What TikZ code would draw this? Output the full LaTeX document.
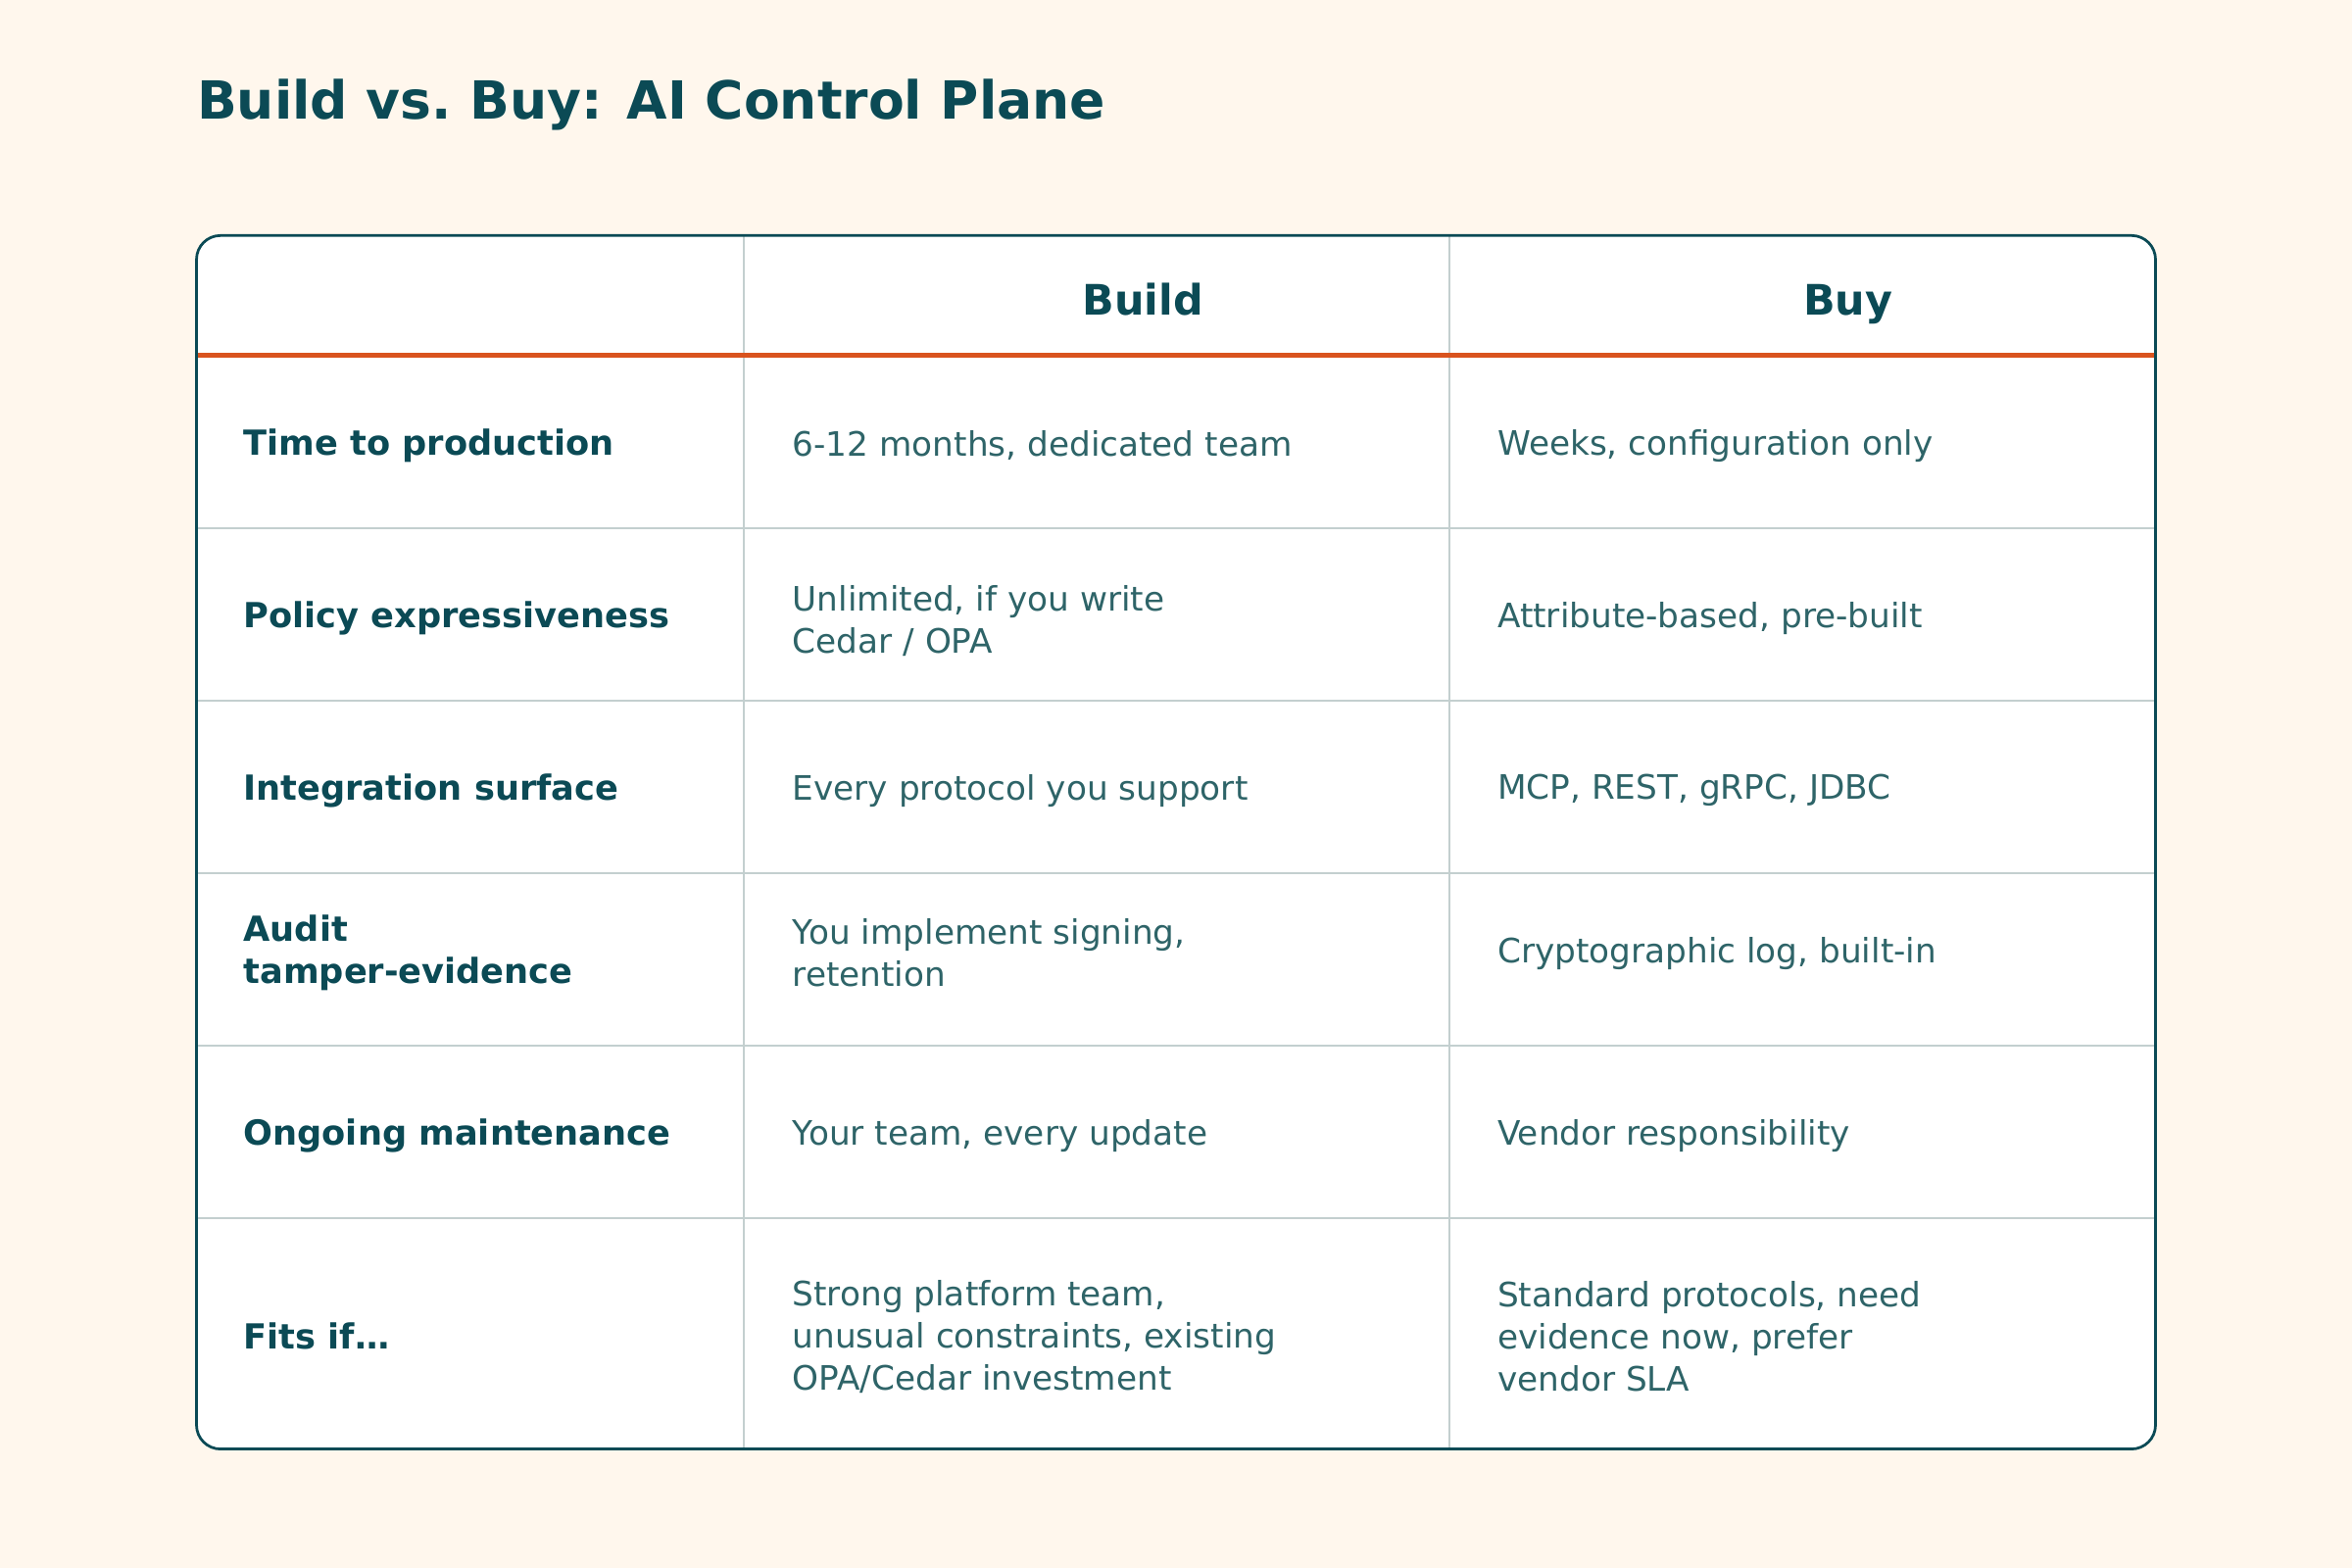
\documentclass[tikz,border=0pt]{standalone}
\usepackage{fontspec}
\setmainfont{DejaVu Sans}
\usepackage{xcolor}
\usetikzlibrary{positioning}
\definecolor{bgcream}{HTML}{FFF7ED}
\definecolor{deepteal}{HTML}{0B4A55}
\definecolor{softteal}{HTML}{2E6468}
\definecolor{gridgray}{HTML}{C3CFCF}
\definecolor{rustline}{HTML}{D9531E}
\begin{document}
\begin{tikzpicture}[x=0.5pt,y=-0.5pt]
  \tikzset{title/.style = {anchor=west,font=\fontsize{17.5}{20}\selectfont\bfseries,text=deepteal,inner sep=0}}
  \tikzset{head/.style = {anchor=base,font=\fontsize{14}{16}\selectfont\bfseries,text=deepteal,inner sep=0}}
  \tikzset{rowlabel/.style = {anchor=west,align=left,font=\fontsize{11.5}{14}\selectfont\bfseries,text=deepteal,inner sep=0}}
  \tikzset{cell/.style = {anchor=west,align=left,font=\fontsize{11.2}{14}\selectfont,text=softteal,inner sep=0}}
  \tikzset{grid/.style = {draw=gridgray,line width=0.6pt}}

	\fill[bgcream] (0,0) rectangle (1568,1045);
	\node[title] (T) at (131,70) {Build vs.\ Buy: AI Control Plane};

	\fill[white,rounded corners=8pt] (131,157) rectangle (1437,966);
	% grid
	\foreach \y in {352,467,582,697,812}
	\draw[grid] (131,\y) -- (1437,\y);
	\foreach \x in {496,966}
	\draw[grid] (\x,157) -- (\x,966);
	\draw[rustline,line width=1.5pt] (131,237) -- (1437,237);
	\draw[deepteal,line width=0.9pt,rounded corners=8pt] (131,157) rectangle (1437,966);

	\node[head] (hbuild) at (762,210) {Build};
	\node[head] (hbuy) at (1232,210) {Buy};

	\node[rowlabel] (l1) at (162,297) {Time to production};
	\node[rowlabel] (l2) at (162,412) {Policy expressiveness};
	\node[rowlabel] (l3) at (162,527) {Integration surface};
	\node[rowlabel] (l4) at (162,635) {Audit\\tamper-evidence};
	\node[rowlabel] (l5) at (162,757) {Ongoing maintenance};
	\node[rowlabel] (l6) at (162,891) {Fits if…};

	\node[cell] (a1) at (528,297) {6-12 months, dedicated team};
	\node[cell] (a2) at (528,414) {Unlimited, if you write\\Cedar / OPA};
	\node[cell] (a3) at (528,527) {Every protocol you support};
	\node[cell] (a4) at (528,635) {You implement signing,\\retention};
	\node[cell] (a5) at (528,757) {Your team, every update};
	\node[cell] (a6) at (528,891) {Strong platform team,\\unusual constraints, existing\\OPA/Cedar investment};

	\node[cell] (b1) at (998,297) {Weeks, configuration only};
	\node[cell] (b2) at (998,412) {Attribute-based, pre-built};
	\node[cell] (b3) at (998,527) {MCP, REST, gRPC, JDBC};
	\node[cell] (b4) at (998,636) {Cryptographic log, built-in};
	\node[cell] (b5) at (998,757) {Vendor responsibility};
	\node[cell] (b6) at (998,891) {Standard protocols, need\\evidence now, prefer\\vendor SLA};
\end{tikzpicture}
\end{document}
